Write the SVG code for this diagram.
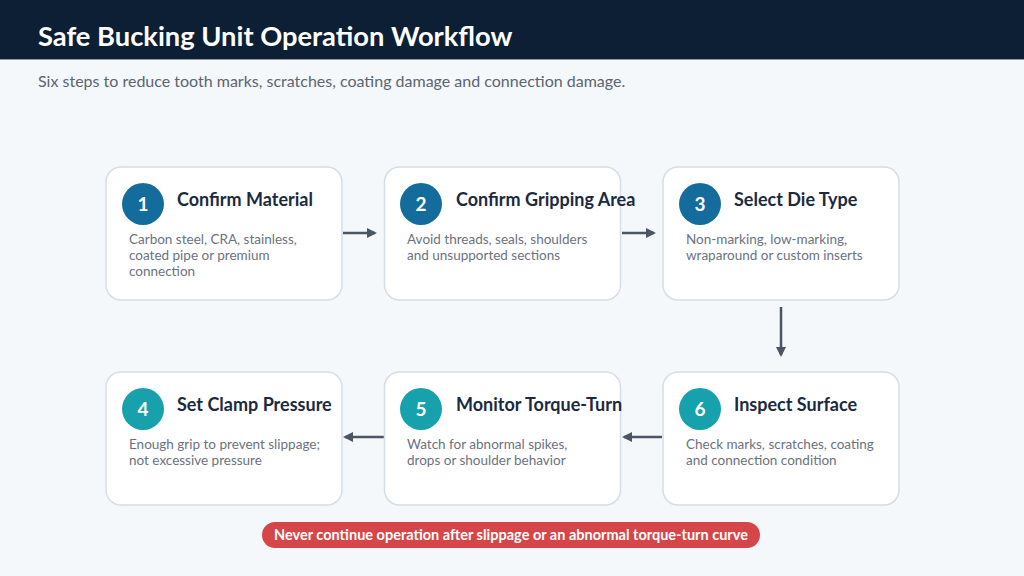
<svg xmlns="http://www.w3.org/2000/svg" width="1024" height="576" viewBox="0 0 1024 576">
<style>
text{font-family:Lato,"Liberation Sans",sans-serif}
.card{fill:#fff;stroke:#d6dde6;stroke-width:1.5}
.t{font-size:18px;font-weight:700;fill:#1b2a3e}
.d{font-size:13.5px;fill:#6b7280}
.n{font-size:19px;font-weight:700;fill:#fff;text-anchor:middle}
.c1{fill:#146c9c}
.c2{fill:#17a1ad}
.con{stroke:#4b5563;stroke-width:2.5;fill:none;marker-end:url(#ah)}
</style>
<defs>
<marker id="ah" markerWidth="10" markerHeight="10" refX="8" refY="5" orient="auto" markerUnits="userSpaceOnUse">
<path d="M0,0 L10,5 L0,10 Z" fill="#4b5563"/>
</marker>
</defs>
<rect width="1024" height="576" fill="#f5f8fb"/>
<rect width="1024" height="59" fill="#0d1f35"/>
<line x1="0" y1="59.5" x2="1024" y2="59.5" stroke="#8a97a6" stroke-width="1"/>
<text x="38" y="45.5" font-size="27.3" font-weight="700" fill="#fff">Safe Bucking Unit Operation Workflow</text>
<text x="38" y="87" font-size="16" fill="#5b6472">Six steps to reduce tooth marks, scratches, coating damage and connection damage.</text>

<g id="connectors">
<line class="con" x1="343" y1="233" x2="375" y2="233"/>
<line class="con" x1="622" y1="233" x2="654" y2="233"/>
<line class="con" x1="781" y1="307" x2="781" y2="355"/>
<line class="con" x1="662" y1="437" x2="624" y2="437"/>
<line class="con" x1="384" y1="437" x2="345" y2="437"/>
</g>

<g id="node1">
<rect class="card" x="106" y="167" width="236" height="133" rx="15"/>
<circle class="c1" cx="143" cy="204" r="21"/>
<text class="n" x="143" y="211">1</text>
<text class="t" x="177" y="206">Confirm Material</text>
<text class="d" x="129" y="244">Carbon steel, CRA, stainless,</text>
<text class="d" x="129" y="260">coated pipe or premium</text>
<text class="d" x="129" y="276">connection</text>
</g>
<g id="node2">
<rect class="card" x="384.5" y="167" width="236" height="133" rx="15"/>
<circle class="c1" cx="421" cy="204" r="21"/>
<text class="n" x="421" y="211">2</text>
<text class="t" x="456" y="206">Confirm Gripping Area</text>
<text class="d" x="407" y="244">Avoid threads, seals, shoulders</text>
<text class="d" x="407" y="260">and unsupported sections</text>
</g>
<g id="node3">
<rect class="card" x="663" y="167" width="236" height="133" rx="15"/>
<circle class="c1" cx="700" cy="204" r="21"/>
<text class="n" x="700" y="211">3</text>
<text class="t" x="734" y="206">Select Die Type</text>
<text class="d" x="686" y="244">Non-marking, low-marking,</text>
<text class="d" x="686" y="260">wraparound or custom inserts</text>
</g>
<g id="node4">
<rect class="card" x="106" y="372" width="236" height="133" rx="15"/>
<circle class="c2" cx="143" cy="409" r="21"/>
<text class="n" x="143" y="416">4</text>
<text class="t" x="177" y="411">Set Clamp Pressure</text>
<text class="d" x="129" y="449">Enough grip to prevent slippage;</text>
<text class="d" x="129" y="465">not excessive pressure</text>
</g>
<g id="node5">
<rect class="card" x="384.5" y="372" width="236" height="133" rx="15"/>
<circle class="c2" cx="421" cy="409" r="21"/>
<text class="n" x="421" y="416">5</text>
<text class="t" x="456" y="411">Monitor Torque-Turn</text>
<text class="d" x="407" y="449">Watch for abnormal spikes,</text>
<text class="d" x="407" y="465">drops or shoulder behavior</text>
</g>
<g id="node6">
<rect class="card" x="663" y="372" width="236" height="133" rx="15"/>
<circle class="c2" cx="700" cy="409" r="21"/>
<text class="n" x="700" y="416">6</text>
<text class="t" x="734" y="411">Inspect Surface</text>
<text class="d" x="686" y="449">Check marks, scratches, coating</text>
<text class="d" x="686" y="465">and connection condition</text>
</g>
<g id="warning">
<rect x="262" y="522" width="498" height="26" rx="13" fill="#d64547"/>
<text x="511" y="540" font-size="14.5" font-weight="700" fill="#fff" text-anchor="middle">Never continue operation after slippage or an abnormal torque-turn curve</text>
</g>
</svg>
